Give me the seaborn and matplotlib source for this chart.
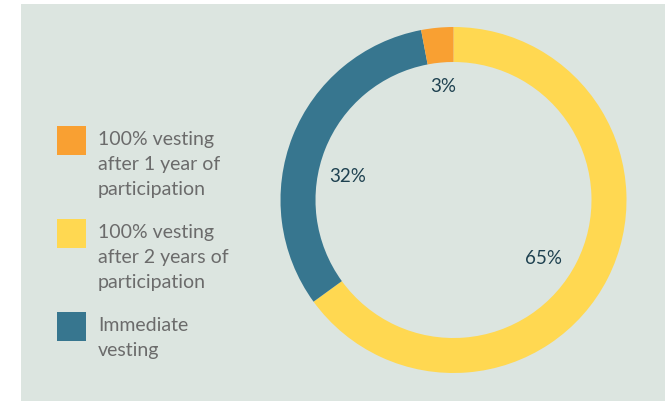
import matplotlib
matplotlib.use("Agg")
import matplotlib.pyplot as plt
import seaborn as sns
from matplotlib.patches import Rectangle

sns.set_theme(style="white")
plt.rcParams['font.family'] = ['Lato', 'DejaVu Sans']

categories = ["100% vesting after 2 years of participation",
              "Immediate vesting",
              "100% vesting after 1 year of participation"]
values = [65, 32, 3]
colors = ["#FFD851", "#37768F", "#F9A032"]
legend_labels = [["100% vesting", "after 1 year of", "participation"],
                 ["100% vesting", "after 2 years of", "participation"],
                 ["Immediate", "vesting"]]
legend_colors = ["#F9A032", "#FFD851", "#37768F"]

W, H = 665, 401
fig = plt.figure(figsize=(W / 100, H / 100), dpi=100)
fig.patch.set_facecolor("white")
bg = "#DCE5E0"
fig.patches.append(Rectangle((21 / W, 0), 1 - 21 / W, 1 - 4 / H, transform=fig.transFigure,
                             facecolor=bg, edgecolor="none", zorder=-5))

cx, cy, r = 453.5, 200, 173
ax = fig.add_axes([(cx - r) / W, 1 - (cy + r) / H, 2 * r / W, 2 * r / H])
ax.set_zorder(1)
ax.patch.set_alpha(0)
wedges, _ = ax.pie(values, colors=colors, startangle=90, counterclock=False,
                   wedgeprops=dict(width=35 / r, edgecolor="none"), radius=1)
ax.set_xlim(-1, 1)
ax.set_ylim(-1, 1)
ax.set_aspect("auto")
ax.axis("off")

label_pos = {65: (543, 259), 32: (348, 176), 3: (443, 87)}
for v in values:
    x, y = label_pos[v]
    fig.text(x / W, 1 - y / H, f"{v}%", ha="center", va="center",
             fontsize=13.5, color="#1E4150", zorder=3)

sq_tops = [126, 219, 312]
for lines, col, top in zip(legend_labels, legend_colors, sq_tops):
    fig.patches.append(Rectangle((57 / W, 1 - (top + 29) / H), 29 / W, 29 / H,
                                 transform=fig.transFigure, facecolor=col,
                                 edgecolor="none", zorder=2))
    for i, line in enumerate(lines):
        base = top + 19 + 25 * i
        fig.text(98 / W, 1 - base / H, line, ha="left", va="baseline",
                 fontsize=14, color="#6B6B6B", zorder=3)

fig.savefig("out.png", dpi=100)
